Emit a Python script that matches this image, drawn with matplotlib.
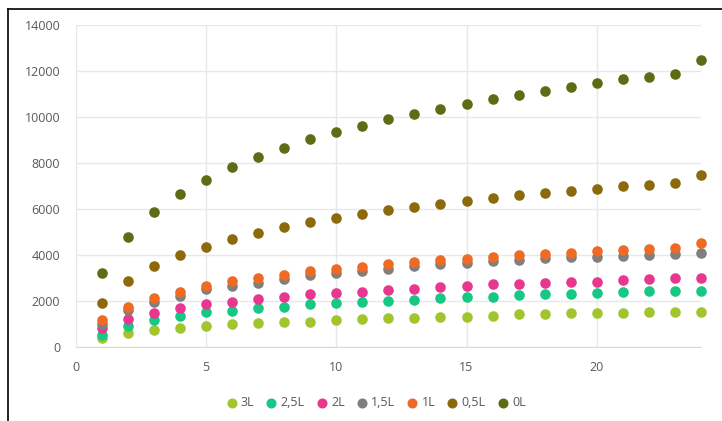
import numpy as np
import matplotlib.pyplot as plt
from matplotlib.lines import Line2D

# ---------------- data ----------------
days = list(range(1, 25))

s_3L = [380, 594, 739, 841, 913, 1000, 1058, 1101, 1100, 1174, 1203, 1246,
        1275, 1319, 1319, 1348, 1420, 1435, 1464, 1493, 1493, 1508, 1536, 1536]
s_25L = [540, 913, 1174, 1362, 1507, 1580, 1681, 1754, 1870, 1900, 1942, 2000,
         2043, 2116, 2159, 2188, 2261, 2290, 2319, 2348, 2406, 2435, 2450, 2450]
s_2L = [812, 1203, 1493, 1710, 1855, 1971, 2072, 2188, 2290, 2362, 2406, 2478,
        2522, 2594, 2652, 2724, 2725, 2768, 2812, 2840, 2913, 2957, 3000, 3014]
s_15L = [1000, 1600, 1970, 2217, 2507, 2650, 2797, 2942, 3130, 3200, 3300, 3400,
         3500, 3600, 3660, 3720, 3783, 3855, 3900, 3928, 3971, 4000, 4043, 4101]
s_1L = [1190, 1740, 2140, 2390, 2640, 2850, 2990, 3120, 3290, 3375, 3490, 3590,
        3685, 3770, 3830, 3905, 3985, 4055, 4100, 4170, 4220, 4275, 4325, 4510]
s_05L = [1930, 2880, 3520, 4000, 4360, 4700, 4970, 5200, 5430, 5600, 5780, 5950,
         6070, 6220, 6350, 6460, 6600, 6700, 6800, 6880, 7000, 7060, 7140, 7490]
s_0L = [3200, 4770, 5860, 6650, 7260, 7810, 8270, 8660, 9030, 9330, 9610, 9900,
        10130, 10350, 10570, 10770, 10960, 11140, 11300, 11490, 11640, 11750, 11880, 12480]

labels = ['3L', '2,5L', '2L', '1,5L', '1L', '0,5L', '0L']
colors = ['#a2c52e', '#16c884', '#e8378f', '#7f7f7f', '#ee6a25', '#8c6a0c', '#5c6d15']
series = [s_3L, s_25L, s_2L, s_15L, s_1L, s_05L, s_0L]

############ plot ############################################################
plt.rcParams['font.family'] = ['Open Sans', 'DejaVu Sans']

fig = plt.figure(figsize=(7.22, 4.21), dpi=100)
ax = fig.add_axes([0.1047, 0.1758, 0.8663, 0.7648])

for vals, lab, col in zip(series, labels, colors):
    ax.scatter(days, vals, s=58, color=col, label=lab, zorder=3,
               clip_on=False, linewidths=0)

ax.set_xlim(0, 24)
ax.set_ylim(0, 14000)
ax.set_xticks([0, 5, 10, 15, 20])
ax.set_yticks(range(0, 14001, 2000))
ax.grid(True, color='#e8e8e8', lw=1)
ax.set_axisbelow(True)
for side in ['top', 'right', 'left']:
    ax.spines[side].set_visible(False)
ax.spines['bottom'].set_color('#d9d9d9')
ax.tick_params(length=0, labelsize=9, colors='#595959')
ax.tick_params(axis='x', pad=10)
ax.tick_params(axis='y', pad=11)

ax.legend(loc='upper center', bbox_to_anchor=(0.48, -0.125), ncol=7,
          frameon=False, fontsize=9, handlelength=0.9, handletextpad=0.3,
          columnspacing=0.9, markerscale=0.95, labelcolor='#595959', borderpad=0.2)

# outer frame of the image (left and top edge only visible)
fig.add_artist(Line2D([8 / 722, 8 / 722], [0, 1 - 9 / 421], transform=fig.transFigure,
                      color='black', lw=1.2))
fig.add_artist(Line2D([8 / 722, 1], [1 - 9 / 421, 1 - 9 / 421], transform=fig.transFigure,
                      color='black', lw=1.2))

fig.savefig('out.png', dpi=100)
